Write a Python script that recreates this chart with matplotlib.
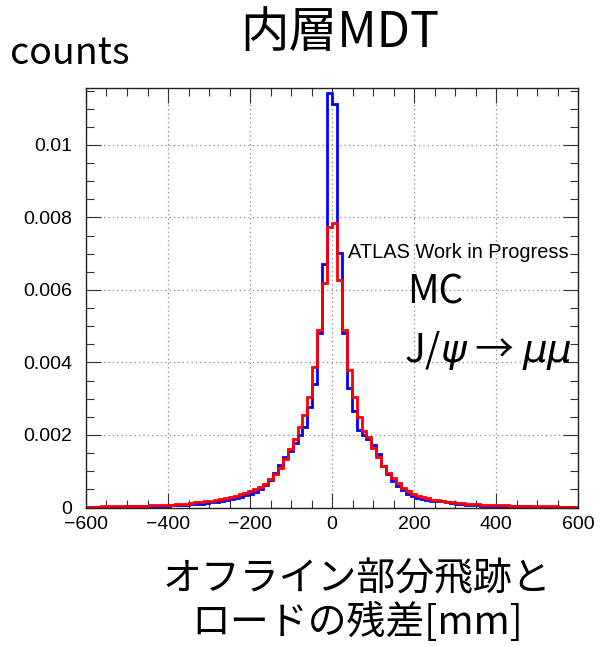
import numpy as np
import matplotlib
matplotlib.use("Agg")
import matplotlib.pyplot as plt
from matplotlib.ticker import FixedLocator, MultipleLocator

# histogram range: 100 bins of 12 mm between -600 and 600
x_range = (-600, 600)
n_bins = 100

# red histogram (bin contents, left to right)
red_counts = [
    0.00002, 0.00002, 0.00002, 0.00003, 0.00003, 0.00003, 0.00003, 0.00004,
    0.00004, 0.00004, 0.00005, 0.00005, 0.00005, 0.00006, 0.00006, 0.00006,
    0.00007, 0.00008, 0.00009, 0.00010, 0.00011, 0.00012, 0.00014, 0.00015,
    0.00017, 0.00019, 0.00021, 0.00023, 0.00026, 0.00029, 0.00032, 0.00036,
    0.00040, 0.00045, 0.00050, 0.00057, 0.00066, 0.00078, 0.00092, 0.00110,
    0.00135, 0.00160, 0.00190, 0.00222, 0.00255, 0.00305, 0.00388, 0.00490,
    0.00620, 0.00775,
    0.00785, 0.00628, 0.00490, 0.00378, 0.00305, 0.00250, 0.00212, 0.00195,
    0.00165, 0.00140, 0.00115, 0.00095, 0.00080, 0.00067, 0.00055, 0.00045,
    0.00038, 0.00032, 0.00028, 0.00025, 0.00022, 0.00020, 0.00018, 0.00016,
    0.00014, 0.00013, 0.00012, 0.00011, 0.00010, 0.00009, 0.00008,
    0.00007, 0.00007, 0.00006, 0.00006, 0.00006, 0.00005, 0.00005, 0.00005,
    0.00004, 0.00004, 0.00004, 0.00003, 0.00003, 0.00003, 0.00003, 0.00002,
    0.00002, 0.00002, 0.00002,
]

# blue histogram (bin contents, left to right)
blue_counts = [
    0.00001, 0.00001, 0.00001, 0.00002, 0.00002, 0.00002, 0.00002, 0.00002,
    0.00003, 0.00003, 0.00003, 0.00003, 0.00004, 0.00004, 0.00004, 0.00005,
    0.00005, 0.00006, 0.00006, 0.00007, 0.00008, 0.00009, 0.00010, 0.00011,
    0.00012, 0.00014, 0.00015, 0.00017, 0.00020, 0.00023, 0.00026, 0.00030,
    0.00034, 0.00038, 0.00044, 0.00052, 0.00062, 0.00075, 0.00095, 0.00118,
    0.00140, 0.00155, 0.00178, 0.00200, 0.00222, 0.00278, 0.00340, 0.00480,
    0.00672, 0.01143,
    0.01113, 0.00703, 0.00480, 0.00330, 0.00265, 0.00215, 0.00200, 0.00190,
    0.00172, 0.00148, 0.00115, 0.00092, 0.00074, 0.00060, 0.00048, 0.00038,
    0.00031, 0.00027, 0.00024, 0.00021, 0.00019, 0.00017, 0.00018, 0.00016,
    0.00012, 0.00010, 0.00009, 0.00008, 0.00007, 0.00006, 0.00005,
    0.00005, 0.00005, 0.00004, 0.00004, 0.00004, 0.00003, 0.00003, 0.00003,
    0.00003, 0.00002, 0.00002, 0.00002, 0.00002, 0.00002, 0.00001, 0.00001,
    0.00001, 0.00001, 0.00001,
]

assert len(red_counts) == n_bins and len(blue_counts) == n_bins

x_ticks = [-600, -400, -200, 0, 200, 400, 600]
x_tick_labels = ["\u2212600", "\u2212400", "\u2212200", "0", "200", "400", "600"]
y_ticks = [0, 0.002, 0.004, 0.006, 0.008, 0.01]
y_tick_labels = ["0", "0.002", "0.004", "0.006", "0.008", "0.01"]

title_text = "内層MDT"
y_title = "counts"
x_title = "オフライン部分飛跡と\nロードの残差[mm]"

jp_font = ["Noto Sans CJK JP", "DejaVu Sans"]
tick_font = "Liberation Sans"

W, H = 608, 646
fig = plt.figure(figsize=(W / 100, H / 100), dpi=100)
ax = fig.add_axes([86 / W, 1 - 507.5 / H, 492 / W, (507.5 - 88) / H])

edges = np.linspace(x_range[0], x_range[1], n_bins + 1)
ax.stairs(blue_counts, edges, color="#0000ff", linewidth=2.0, baseline=None)
ax.stairs(red_counts, edges, color="#ff0000", linewidth=2.0, baseline=None)

ax.set_xlim(*x_range)
ax.set_ylim(0, 0.01157)

# ROOT-like ticks: inward, on all sides
ax.xaxis.set_major_locator(FixedLocator(x_ticks))
ax.set_xticklabels(x_tick_labels, fontfamily=tick_font, fontsize=14)
ax.xaxis.set_minor_locator(MultipleLocator(50))
ax.yaxis.set_major_locator(FixedLocator(y_ticks))
ax.set_yticklabels(y_tick_labels, fontfamily=tick_font, fontsize=14)
ax.yaxis.set_minor_locator(MultipleLocator(0.0005))
ax.tick_params(which="both", direction="in", top=True, right=True, width=0.8,
               colors="#333333", labelcolor="black")
ax.tick_params(which="major", length=11)
ax.tick_params(which="minor", length=6)
ax.tick_params(axis="x", pad=6)
ax.tick_params(axis="y", pad=10)

ax.grid(True, which="major", linestyle=(0, (1, 2.5)), color="#888888", linewidth=0.9)
ax.set_axisbelow(True)
for s in ax.spines.values():
    s.set_linewidth(1.0)
    s.set_color("#222222")

# annotations inside the frame
fig.text(348 / W, 1 - 252 / H, "ATLAS Work in Progress", fontfamily=tick_font,
         fontsize=14.4, va="center", ha="left")
fig.text(407 / W, 1 - 292 / H, "MC", fontfamily=jp_font, fontsize=28,
         va="center", ha="left")
fig.text(404 / W, 1 - 350 / H, r"J/$\psi$ → $\mu\mu$", fontfamily=jp_font,
         fontsize=28, va="center", ha="left")

fig.text(340 / W, 1 - 33 / H, title_text, fontfamily=jp_font, fontsize=35,
         va="center", ha="center")
fig.text(10 / W, 1 - 54 / H, y_title, fontfamily=jp_font, fontsize=27,
         va="center", ha="left")
fig.text(357 / W, 1 - 601 / H, x_title, fontfamily=jp_font, fontsize=28,
         va="center", ha="center", linespacing=1.12)

fig.savefig("out.png", dpi=100)
